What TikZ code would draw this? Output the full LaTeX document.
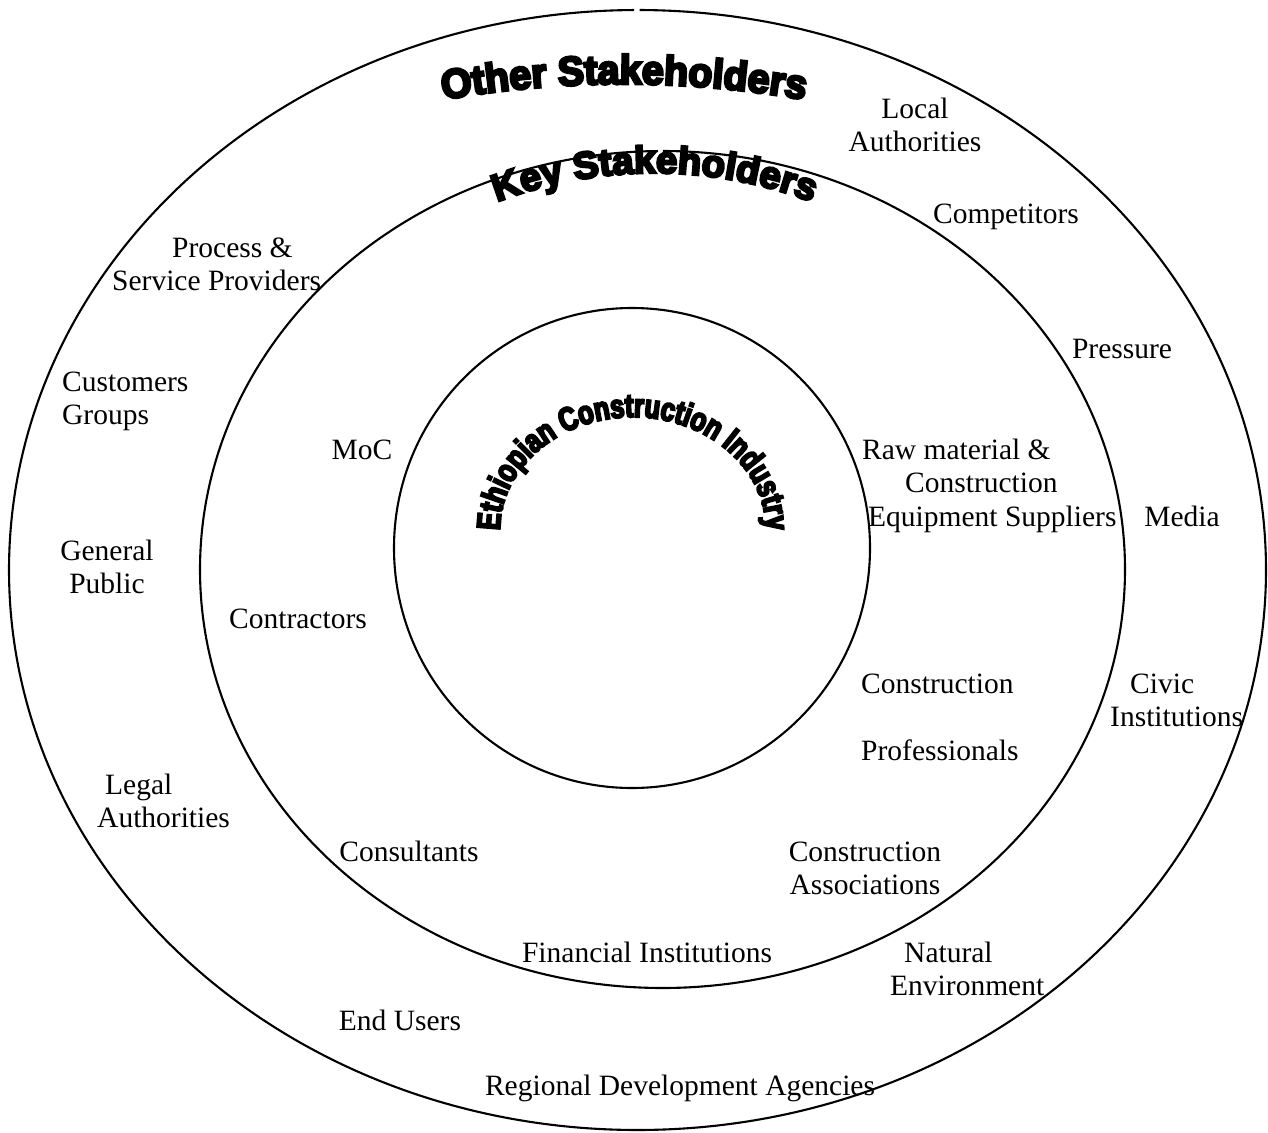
\documentclass[tikz,border=0pt]{standalone}
\usepackage{fontspec}
\setmainfont{Liberation Serif}
\newfontfamily\wOtherF[FakeBold=6.5,FakeStretch=0.96]{Liberation Sans Bold}
\newfontfamily\wKeyF[FakeBold=6.5,FakeStretch=1.01]{Liberation Sans Bold}
\newfontfamily\wEthF[FakeBold=6,FakeStretch=0.77]{Liberation Sans Bold}
\newcommand\fOther{\wOtherF\fontsize{41}{44}\selectfont}
\newcommand\fKey{\wKeyF\fontsize{38}{41}\selectfont}
\newcommand\fEth{\wEthF\fontsize{33}{36}\selectfont}
\usetikzlibrary{decorations.text}
\tikzset{
  ring/.style={line width=2.1pt},
  lbl/.style={inner sep=0pt, font=\fontsize{29.5}{33.5}\selectfont, anchor=base},
  lblc/.style={lbl, align=center},
  lbll/.style={lbl, align=left, anchor=base west},
}
\begin{document}
\begin{tikzpicture}[x=1pt,y=-1pt]
\useasboundingbox (0,0) rectangle (1268,1132);
\fill[white] (0,0) rectangle (1268,1132);
% rings
\draw[ring] ([shift={(-89.8:628.5 and 560)}]637.5,570) arc[start angle=-89.8, end angle=269.7, x radius=628.5, y radius=560];
\draw[ring] ([shift={(-89.94:462.5 and 418.5)}]662.5,569.5) arc[start angle=-89.94, end angle=269.44, x radius=462.5, y radius=418.5];
\draw[ring] (632,548) ellipse[x radius=238, y radius=240];
% curved titles
\path[decorate, decoration={text along path, text align=center, text={|\fOther|Other Stakeholders}}]
  ([shift={(256:1046)}]624,1130) arc[start angle=256, end angle=284, radius=1046];
\path[decorate, decoration={text along path, text align=center, text={|\fKey|Key Stakeholders}}]
  ([shift={(242:442)}]654.5,615) arc[start angle=242, end angle=298, radius=442];
\path[decorate, decoration={text along path, text align=center, text={|\fEth|Ethiopian Construction Industry}}]
  ([shift={(172:133 and 113)}]633,530) arc[start angle=172, end angle=368, x radius=133, y radius=113];
% labels (base = baseline of last line)
\node[lblc] (local) at (915,151.5) {Local\\Authorities};
\node[lbl] (competitors) at (1006,223) {Competitors};
\node[lbll] (process) at (112,290.5) {\hspace*{60pt}Process \&\\Service Providers};
\node[lbl] (pressure) at (1122,358) {Pressure};
\node[lbll] (customers) at (62,424.5) {Customers\\Groups};
\node[lbl] (moc) at (362,459) {MoC};
\node[lbll] (raw) at (862,526) {Raw material \&\\\hspace*{43pt}Construction\\\hspace*{6pt}Equipment Suppliers};
\node[lbl] (media) at (1182,526) {Media};
\node[lblc] (general) at (107,593.5) {General\\Public};
\node[lbl] (contractors) at (298,628) {Contractors};
\node[lbll] (profs) at (861,760) {Construction\\[33.5pt]Professionals};
\node[lbll] (civic) at (1110,726.5) {\hspace*{20pt}Civic\\Institutions};
\node[lbll] (legal) at (97,827.5) {\hspace*{8pt}Legal\\Authorities};
\node[lbl] (consultants) at (409,861) {Consultants};
\node[lblc] (assoc) at (865,894.5) {Construction\\Associations};
\node[lbl] (financial) at (647,962) {Financial Institutions};
\node[lbll] (natural) at (890,995.5) {\hspace*{14pt}Natural\\Environment};
\node[lbl] (endusers) at (400,1030) {End Users};
\node[lbl] (regional) at (680,1095) {Regional Development Agencies};
\end{tikzpicture}
\end{document}
